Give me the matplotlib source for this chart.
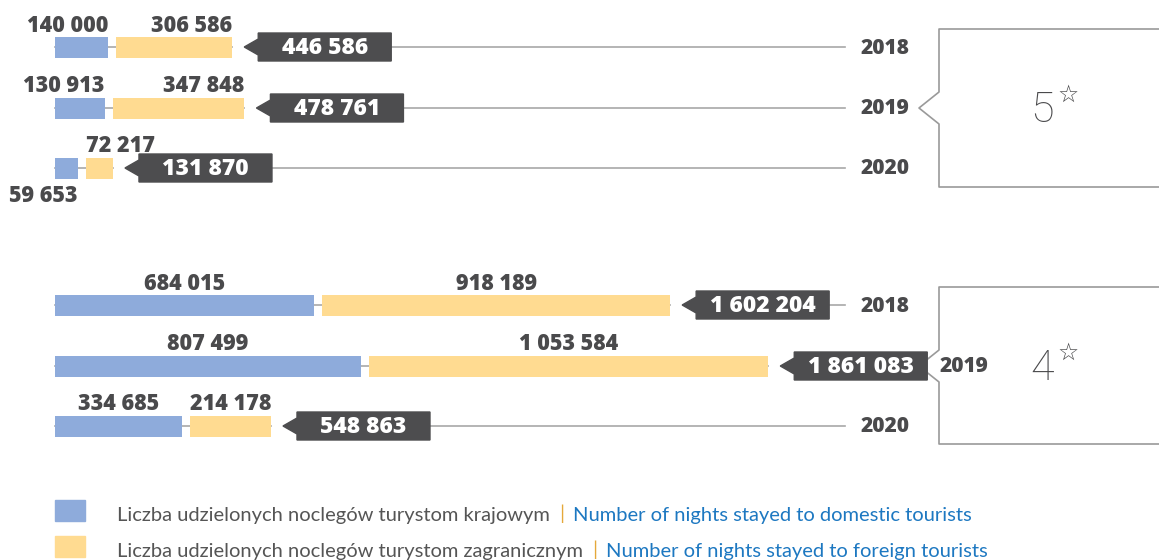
import matplotlib.pyplot as plt
from matplotlib.patches import Polygon

years = ['2018', '2019', '2020']
five_domestic = [140000, 130913, 59653]
five_foreign = [306586, 347848, 72217]
four_domestic = [684015, 807499, 334685]
four_foreign = [918189, 1053584, 214178]

legend_pl = ['Liczba udzielonych noclegów turystom krajowym',
             'Liczba udzielonych noclegów turystom zagranicznym']
legend_en = ['Number of nights stayed to domestic tourists',
             'Number of nights stayed to foreign tourists']

BLUE = '#8eabdb'
YELLOW = '#ffdb91'
DARK = '#4d4d4f'
TXT = '#4a4a4c'
LINE = '#a8a8a8'

W, H = 1159, 560
K = 306 / 807499          # pixels per night
X0 = 55                   # left edge of the bars (px)

fig = plt.figure(figsize=(W / 100, H / 100), dpi=100)
# data axes: x in nights, y in pixel rows
ax = fig.add_axes([0, 0, 1, 1])
ax.set_xlim(-X0 / K, (W - X0) / K)
ax.set_ylim(H, 0)
ax.axis('off')
# overlay in pixel units for frames and legend
deco = fig.add_axes([0, 0, 1, 1], zorder=-1)
deco.set_xlim(0, W)
deco.set_ylim(H, 0)
deco.axis('off')

num_font = dict(family='Open Sans', fontweight='heavy')


def fmt(v):
    return f'{v:,}'.replace(',', ' ')


def px(n):
    return n / K


def draw_group(rows, dom, frn, dom_align, frn_align, below=()):
    gap = px(8)
    for i, (y, d, f) in enumerate(zip(rows, dom, frn)):
        left_f = d + gap
        end = left_f + f
        # connector line behind the bars
        ax.plot([0, end], [y, y], color=LINE, lw=1.2, zorder=1)
        ax.barh(y, d, height=21, left=0, color=BLUE, zorder=2)
        ax.barh(y, f, height=21, left=left_f, color=YELLOW, zorder=2)

        # value labels
        top = y - 10.5 + 1
        a = dom_align[i]
        xd = {'right': d, 'center': d / 2, 'left': 0}[a]
        if i in below:
            ax.text(xd, y + 10.5 + 5, fmt(d), ha=a, va='top', fontsize=15.5,
                    color=TXT, **num_font)
        else:
            ax.text(xd, top, fmt(d), ha=a, va='bottom', fontsize=15.5,
                    color=TXT, **num_font)
        a = frn_align[i]
        xf = {'right': end, 'center': left_f + f / 2, 'left': left_f}[a]
        ax.text(xf, top, fmt(f), ha=a, va='bottom', fontsize=15.5,
                color=TXT, **num_font)

        # dark total tag with arrow
        tip = end + px(12)
        bl = end + px(26)
        br = bl + px(133)
        tag = Polygon([(tip, y), (bl, y - 8), (bl, y - 14), (br, y - 14),
                       (br, y + 14), (bl, y + 14), (bl, y + 8)],
                      closed=True, color=DARK, zorder=5)
        ax.add_patch(tag)
        ax.text((bl + br) / 2, y + 1, fmt(d + f), ha='center', va='center',
                fontsize=16.5, color='white', zorder=6, **num_font)

        # line to the year label
        line_end = px(845 - X0)
        if br < line_end:
            ax.plot([br, line_end], [y, y], color=LINE, lw=1.2, zorder=1)
        yx = max(861 - X0, (br * K) + 12)
        ax.text(px(yx), y + 1, years[i], ha='left', va='center',
                fontsize=15, color=TXT, zorder=6, **num_font)


def draw_frame(top, bottom, mid, label):
    pts = [(W, top), (939, top), (939, mid - 16), (919, mid), (939, mid + 16),
           (939, bottom), (W, bottom)]
    deco.plot([p[0] for p in pts], [p[1] for p in pts], color='#9a9a9a',
              lw=1.2)
    deco.text(1054, mid + 2, label, ha='right', va='center', fontsize=31,
              color=TXT, family='Roboto', fontweight='light')
    deco.text(1057, mid - 13, '\u2606', ha='left', va='center', fontsize=17,
              color=TXT, family=['DejaVu Sans'])


five_rows = [47, 108, 168]
four_rows = [305, 366, 426]
draw_group(five_rows, five_domestic, five_foreign,
           ['right', 'right', 'right'], ['right', 'right', 'left'], below=(2,))
draw_group(four_rows, four_domestic, four_foreign,
           ['center'] * 3, ['center'] * 3)
draw_frame(29, 187, 108, '5')
draw_frame(287, 444, 366, '4')

# legend
fig.canvas.draw()
rend = fig.canvas.get_renderer()
inv = deco.transData.inverted()
for j, (col, y) in enumerate([(BLUE, 511), (YELLOW, 547)]):
    deco.add_patch(plt.Rectangle((55, y - 11), 30, 21, color=col))
    t = deco.text(117, y + 4, legend_pl[j], ha='left', va='center',
                  fontsize=14.5, color='#555555', family='Lato')
    x = inv.transform(t.get_window_extent(rend).get_points())[1][0]
    t = deco.text(x + 9, y + 3, '|', ha='left', va='center', fontsize=14.5,
                  color='#e5a83a', family='Lato')
    x = inv.transform(t.get_window_extent(rend).get_points())[1][0]
    deco.text(x + 9, y + 4, legend_en[j], ha='left', va='center',
              fontsize=14.5, color='#1d78c1', family='Lato')

fig.savefig('out.png', dpi=100)
